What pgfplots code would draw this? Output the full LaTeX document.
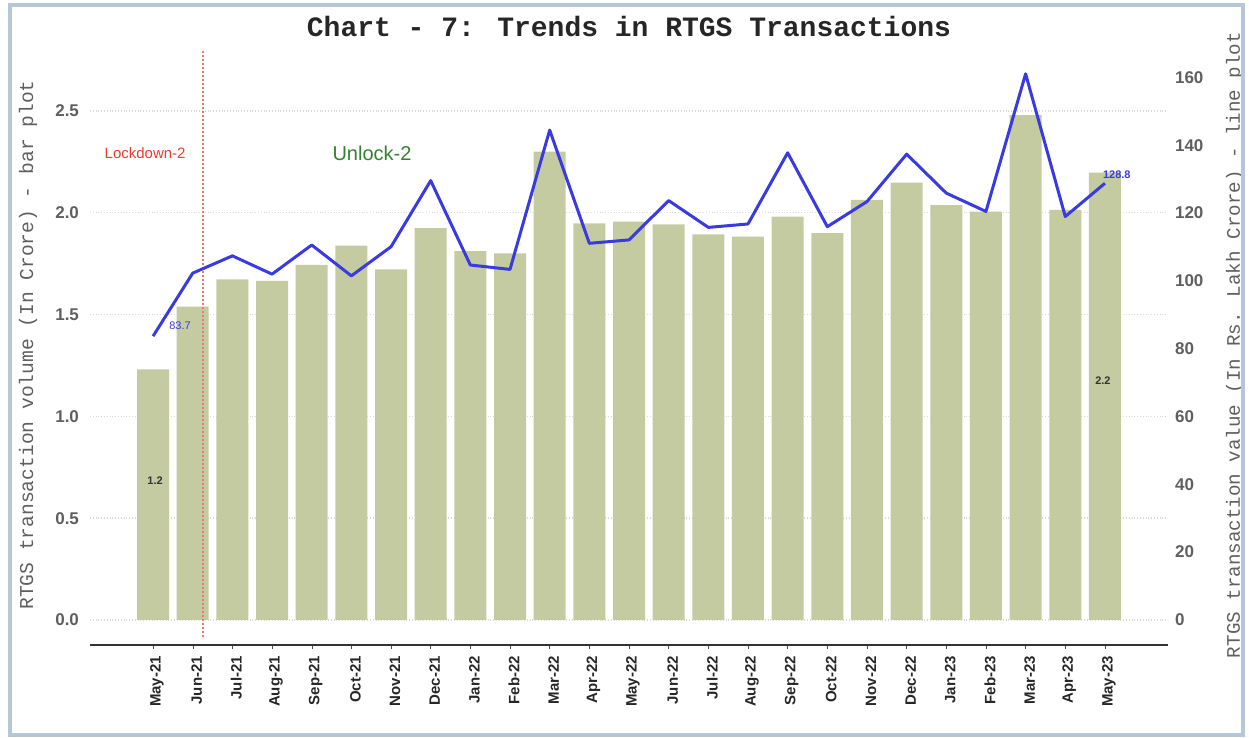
\documentclass[border=0pt]{standalone}
\usepackage{pgfplots}
\pgfplotsset{compat=1.18}
\usepackage{pgfplotstable}
\usepackage{fontspec}
\setmainfont{Liberation Sans}
\newfontfamily\mono{Liberation Mono}
\definecolor{barc}{RGB}{196,203,160}
\definecolor{linec}{RGB}{58,58,225}
\definecolor{lockred}{RGB}{232,60,45}
\definecolor{ungreen}{RGB}{50,130,45}
\definecolor{framec}{RGB}{182,200,216}
\definecolor{tickgray}{RGB}{95,95,95}

\pgfplotstableread{
x vol val
0 1.231 83.7
1 1.539 102.3
2 1.673 107.4
3 1.665 102.0
4 1.744 110.6
5 1.838 101.5
6 1.722 110.1
7 1.924 129.6
8 1.812 104.7
9 1.801 103.4
10 2.300 144.5
11 1.948 111.1
12 1.957 112.1
13 1.943 123.7
14 1.894 115.8
15 1.883 116.8
16 1.981 137.8
17 1.900 116.0
18 2.063 123.4
19 2.148 137.4
20 2.038 125.9
21 2.005 120.5
22 2.480 161.1
23 2.014 119.0
24 2.197 128.8
}\data

\begin{document}
\begin{tikzpicture}
\begin{axis}[
  scale only axis, width=539pt, height=300pt,
  xmin=-1.59, xmax=25.59, ymin=-0.123, ymax=2.824,
  axis x line*=bottom, axis y line*=left,
  y axis line style={draw=none},
  x axis line style={black!80, line width=0.8pt, -},
  xtick={0,...,24},
  xticklabels={May-21,Jun-21,Jul-21,Aug-21,Sep-21,Oct-21,Nov-21,Dec-21,Jan-22,Feb-22,Mar-22,Apr-22,May-22,Jun-22,Jul-22,Aug-22,Sep-22,Oct-22,Nov-22,Dec-22,Jan-23,Feb-23,Mar-23,Apr-23,May-23},
  x tick label style={rotate=90, anchor=east, font=\fontsize{7.5}{8}\selectfont\bfseries, text=black!85, yshift=-2pt},
  xtick style={black!70}, tick align=outside, major tick length=2pt,
  ytick={0,0.5,1,1.5,2,2.5},
  ytick style={draw=none},
  y tick label style={/pgf/number format/fixed, /pgf/number format/fixed zerofill, /pgf/number format/precision=1, font=\fontsize{8.5}{9}\selectfont\bfseries, text=tickgray},
  /pgf/number format/assume math mode=true,
  ymajorgrids, grid style={gray!30, densely dotted, line width=0.7pt},
  ylabel={RTGS transaction volume (In Crore) - bar plot},
  every axis y label/.style={at={(axis description cs:-0.0575,0.5)}, rotate=90, anchor=center, font=\mono\fontsize{9.8}{10}\selectfont, text=tickgray},
  title={Chart - 7: Trends in RTGS Transactions},
  every axis title/.style={at={(axis description cs:0.5,1.03)}, anchor=center, font=\mono\bfseries\fontsize{14}{16}\selectfont, text=black!85},
  clip=false,
]
\addplot[ybar, bar width=16pt, fill=barc, draw=none] table[x=x,y=vol]{\data};
\addplot[lockred!70, densely dotted, line width=1pt] coordinates {(1.26,-0.085) (1.26,2.8)};
\node[text=lockred, font=\fontsize{7.5}{8}\selectfont] at (axis cs:-0.2,2.294) {Lockdown-2};
\node[text=ungreen, font=\fontsize{10}{11}\selectfont] at (axis cs:5.52,2.294) {Unlock-2};
\node[text=black!80, font=\fontsize{5.5}{6}\selectfont\bfseries] at (axis cs:0.05,0.683) {1.2};
\node[text=black!80, font=\fontsize{5.5}{6}\selectfont\bfseries] at (axis cs:23.95,1.174) {2.2};
\node[text=linec, font=\fontsize{5.5}{6}\selectfont] at (axis cs:0.68,1.444) {83.7};
\node[text=linec, font=\fontsize{5.5}{6}\selectfont\bfseries] at (axis cs:24.3,2.188) {128.8};
\end{axis}
\begin{axis}[
  scale only axis, width=539pt, height=300pt,
  xmin=-1.59, xmax=25.59, ymin=-7.39, ymax=169.6,
  axis x line=none, axis y line*=right,
  y axis line style={draw=none},
  ytick={0,20,...,160}, ytick style={draw=none},
  y tick label style={font=\fontsize{8.5}{9}\selectfont\bfseries, text=tickgray},
  /pgf/number format/assume math mode=true,
  ylabel={RTGS transaction value (In Rs. Lakh Crore) - line plot},
  every axis y label/.style={at={(axis description cs:1.062,0.5)}, rotate=90, anchor=center, font=\mono\fontsize{9.6}{10}\selectfont, text=tickgray},
  clip=false,
]
\addplot[linec, line width=1.5pt, line join=round] table[x=x,y=val]{\data};
\end{axis}
\pgfresetboundingbox
\path (-45pt,-46.5pt) rectangle (579.5pt,322.5pt);
\draw[framec, line width=2pt] (-40pt,-45pt) rectangle (576.5pt,320pt);
\end{tikzpicture}
\end{document}
